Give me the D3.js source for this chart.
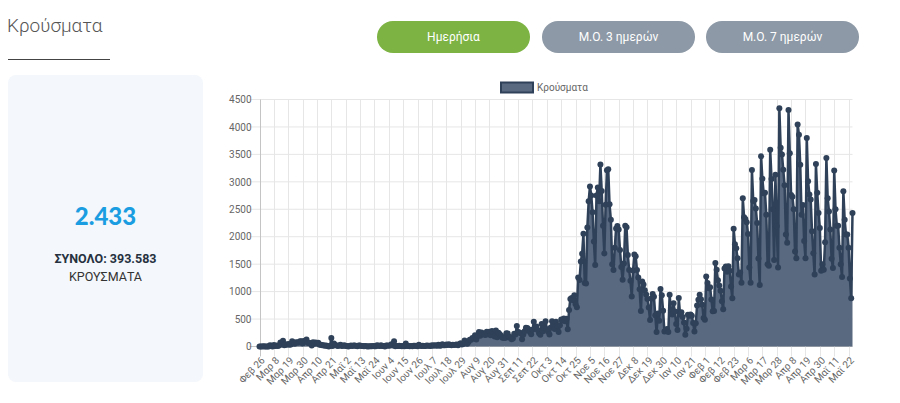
<!DOCTYPE html>
<html>
<head>
<meta charset="utf-8">
<script src="https://cdn.jsdelivr.net/npm/d3@7"></script>
<style>
  html, body { margin: 0; padding: 0; background: #fff; }
  svg { display: block; font-family: Roboto, "Noto Sans", sans-serif; }
</style>
</head>
<body>
<svg id="chart" width="900" height="403"></svg>
<script>
// daily cases, one array per month (26 Feb 2020 -> 25 May 2021)
const feb2020 = [1, 2, 0, 4];
const mar2020 = [0, 0, 0, 2, 22, 14, 0, 28, 11, 16, 10, 18, 73, 38, 103, 21, 35, 31, 46, 31, 35, 94, 71, 48, 78, 71, 74, 95, 95, 56, 102];
const apr2020 = [101, 129, 69, 60, 62, 20, 77, 52, 71, 56, 70, 33, 31, 25, 22, 15, 17, 11, 0, 10, 156, 7, 55, 27, 16, 11, 17, 32, 10, 15];
const may2020 = [21, 8, 10, 2, 10, 16, 10, 16, 20, 11, 3, 16, 16, 10, 9, 6, 10, 4, 2, 6, 5, 3, 8, 3, 3, 21, 12, 8, 25, 8, 10];
const jun2020 = [1, 19, 18, 15, 18, 43, 18, 97, 4, 8, 7, 12, 10, 5, 9, 3, 55, 7, 10, 4, 8, 6, 12, 14, 10, 6, 32, 15, 8, 13];
const jul2020 = [11, 8, 17, 12, 13, 7, 22, 12, 25, 19, 15, 30, 12, 19, 41, 21, 21, 35, 29, 43, 27, 23, 31, 28, 30, 35, 23, 40, 57, 38, 44];
const aug2020 = [110, 75, 49, 80, 125, 124, 153, 151, 203, 126, 190, 262, 194, 254, 230, 217, 211, 269, 221, 269, 204, 284, 228, 182, 293, 168, 251, 221, 198, 159, 160];
const sep2020 = [156, 241, 239, 166, 171, 132, 147, 233, 217, 372, 262, 254, 242, 131, 220, 280, 340, 338, 316, 266, 221, 305, 453, 329, 364, 300, 241, 212, 411, 278];
const oct2020 = [338, 460, 315, 271, 218, 347, 458, 366, 319, 452, 380, 264, 385, 494, 475, 508, 460, 506, 312, 667, 865, 882, 841, 935, 771, 716, 1259, 1211, 1547, 1690, 2056];
const nov2020 = [1155, 1146, 2166, 2646, 2917, 2752, 2445, 1914, 1487, 2752, 2897, 2646, 3316, 2835, 2198, 1695, 2581, 3209, 3227, 2590, 2311, 1498, 1395, 1800, 2152, 2196, 2130, 1760, 1450, 1216];
const dec2020 = [1514, 2199, 2173, 1669, 1395, 1197, 912, 1386, 1677, 1642, 1395, 1256, 1042, 647, 1186, 1128, 1024, 946, 867, 712, 484, 875, 956, 907, 570, 262, 600, 471, 1047, 935, 650];
const jan2021 = [274, 301, 317, 262, 943, 659, 582, 787, 636, 409, 302, 883, 581, 625, 537, 437, 213, 324, 580, 558, 582, 560, 430, 273, 424, 746, 851, 943, 863, 762, 518];
const feb2021 = [488, 1277, 1155, 1063, 1079, 856, 640, 646, 1520, 1397, 1207, 1113, 1014, 825, 677, 1420, 1457, 1360, 1460, 1378, 1092, 877, 2147, 1865, 1790, 1606, 1310, 1349];
const mar2021 = [1160, 2702, 2353, 2322, 2264, 2051, 1440, 1160, 3215, 2653, 2669, 2512, 2250, 1603, 1121, 3465, 3056, 2794, 2801, 2400, 1500, 1469, 3586, 3051, 2500, 1576, 3130, 2190, 1440, 4340, 3620];
const apr2021 = [3500, 3220, 2940, 2040, 1890, 4309, 3520, 2760, 2730, 2500, 1730, 1610, 4045, 3860, 3310, 2400, 2580, 1920, 1610, 3800, 3010, 2770, 2680, 2100, 1700, 1310, 3327, 2800, 2430, 2160];
const may2021 = [1380, 1500, 1400, 1900, 3436, 2700, 2460, 2130, 1600, 1430, 3205, 2500, 2200, 2200, 1800, 1500, 1265, 2830, 2310, 2040, 2040, 1800, 1240, 880, 2433];

const tickLabels = ["Φεβ 26", "Μαρ 8", "Μαρ 19", "Μαρ 30", "Απρ 10", "Απρ 21", "Μαϊ 2", "Μαϊ 13", "Μαϊ 24",
  "Ιουν 4", "Ιουν 15", "Ιουν 26", "Ιουλ 7", "Ιουλ 18", "Ιουλ 29", "Αυγ 9", "Αυγ 20", "Αυγ 31", "Σεπ 11",
  "Σεπ 22", "Οκτ 3", "Οκτ 14", "Οκτ 25", "Νοε 5", "Νοε 16", "Νοε 27", "Δεκ 8", "Δεκ 19", "Δεκ 30",
  "Ιαν 10", "Ιαν 21", "Φεβ 1", "Φεβ 12", "Φεβ 23", "Μαρ 6", "Μαρ 17", "Μαρ 28", "Απρ 8", "Απρ 19",
  "Απρ 30", "Μαϊ 11", "Μαϊ 22"];
const yTicks = [0, 500, 1000, 1500, 2000, 2500, 3000, 3500, 4000, 4500];
const buttons = ["Ημερήσια", "Μ.Ο. 3 ημερών", "Μ.Ο. 7 ημερών"];

const cases = [].concat(feb2020, mar2020, apr2020, may2020, jun2020, jul2020, aug2020, sep2020,
  oct2020, nov2020, dec2020, jan2021, feb2021, mar2021, apr2021, may2021);

const lineColor = "#2f4158";
const fillColor = "#586980";
const gridColor = "#e6e6e6";

const svg = d3.select("#chart");

// header title + underline
svg.append("text")
  .attr("x", 7).attr("y", 32)
  .attr("fill", "#555")
  .style("font-size", "19px")
  .style("font-weight", 300)
  .text("Κρούσματα");
svg.append("line")
  .attr("x1", 8).attr("x2", 110)
  .attr("y1", 59.5).attr("y2", 59.5)
  .attr("stroke", "#444").attr("stroke-width", 1);

// buttons
const btnX = [377, 542, 706];
const btn = svg.append("g").selectAll("g")
  .data(buttons)
  .enter().append("g")
  .attr("transform", (d, i) => `translate(${btnX[i]},21)`);
btn.append("rect")
  .attr("width", 153).attr("height", 32).attr("rx", 16)
  .attr("fill", (d, i) => i === 0 ? "#7cb342" : "#8d99a6");
btn.append("text")
  .attr("x", 76.5).attr("y", 16).attr("dy", "0.35em")
  .attr("text-anchor", "middle")
  .attr("fill", "#fff")
  .style("font-size", "12px")
  .text(d => d);

// left card
svg.append("rect")
  .attr("x", 8).attr("y", 75).attr("width", 195).attr("height", 307).attr("rx", 8)
  .attr("fill", "#f4f7fb");
svg.append("text")
  .attr("x", 105.5).attr("y", 225)
  .attr("text-anchor", "middle")
  .attr("fill", "#1b9de2")
  .style("font-family", "Lato, Roboto, sans-serif")
  .style("font-size", "24px").style("font-weight", 900)
  .text("2.433");
svg.append("text")
  .attr("x", 105.5).attr("y", 263)
  .attr("text-anchor", "middle")
  .attr("fill", "#26313f")
  .style("font-size", "12.5px").style("font-weight", 700)
  .text("ΣΥΝΟΛΟ: 393.583");
svg.append("text")
  .attr("x", 105.5).attr("y", 281)
  .attr("text-anchor", "middle")
  .attr("fill", "#333")
  .style("font-size", "12.5px")
  .text("ΚΡΟΥΣΜΑΤΑ");

// chart
const plotLeft = 259.5, plotRight = 852.5, plotTop = 99.5, plotBottom = 346.5;
const x = d3.scaleLinear().domain([0, cases.length - 1]).range([plotLeft, plotRight]);
const y = d3.scaleLinear().domain([0, 4500]).range([plotBottom, plotTop]);
const xTickIdx = d3.range(0, cases.length, 11);

const grid = svg.append("g");
grid.selectAll(".hg").data(yTicks).enter().append("line")
  .attr("x1", plotLeft - 10).attr("x2", plotRight)
  .attr("y1", d => y(d)).attr("y2", d => y(d))
  .attr("stroke", d => d === 0 ? "#c4c4c4" : gridColor);
grid.selectAll(".vg").data(xTickIdx).enter().append("line")
  .attr("x1", d => Math.round(x(d)) + 0.5).attr("x2", d => Math.round(x(d)) + 0.5)
  .attr("y1", plotTop).attr("y2", plotBottom + 10)
  .attr("stroke", (d, i) => i === 0 ? "#c4c4c4" : gridColor);

const yAxis = svg.append("g")
  .attr("transform", `translate(${plotLeft},0)`)
  .call(d3.axisLeft(y).tickValues(yTicks).tickFormat(d3.format("d")).tickSize(0).tickPadding(8));
yAxis.select(".domain").remove();
yAxis.selectAll("text").attr("fill", "#666").style("font-size", "10px").style("font-family", "Roboto, sans-serif");

const xAxis = svg.append("g")
  .attr("transform", `translate(0,${plotBottom})`)
  .call(d3.axisBottom(x).tickValues(xTickIdx).tickFormat((d, i) => tickLabels[i]).tickSize(0));
xAxis.select(".domain").remove();
xAxis.selectAll("text")
  .attr("fill", "#666")
  .style("font-size", "10px").style("font-family", "Roboto, sans-serif")
  .attr("text-anchor", "end")
  .attr("x", 0).attr("y", 0).attr("dy", "0.35em")
  .attr("transform", "translate(3,12) rotate(-46)");

// area + line + points
const area = d3.area()
  .x((d, i) => x(i))
  .y0(y(0))
  .y1(d => y(d));
const line = d3.line()
  .x((d, i) => x(i))
  .y(d => y(d));

svg.append("path")
  .datum(cases)
  .attr("d", area)
  .attr("fill", fillColor);
svg.append("path")
  .datum(cases)
  .attr("d", line)
  .attr("fill", "none")
  .attr("stroke", lineColor)
  .attr("stroke-width", 2.5)
  .attr("stroke-linejoin", "round");
svg.append("g").selectAll("circle")
  .data(cases)
  .enter().append("circle")
  .attr("cx", (d, i) => x(i))
  .attr("cy", d => y(d))
  .attr("r", 3)
  .attr("fill", lineColor);

// legend
svg.append("rect")
  .attr("x", 501).attr("y", 82.5).attr("width", 32).attr("height", 10)
  .attr("fill", fillColor).attr("stroke", lineColor).attr("stroke-width", 2);
svg.append("text")
  .attr("x", 537).attr("y", 87.5).attr("dy", "0.35em")
  .attr("fill", "#666")
  .style("font-size", "10px")
  .text("Κρούσματα");
</script>
</body>
</html>
